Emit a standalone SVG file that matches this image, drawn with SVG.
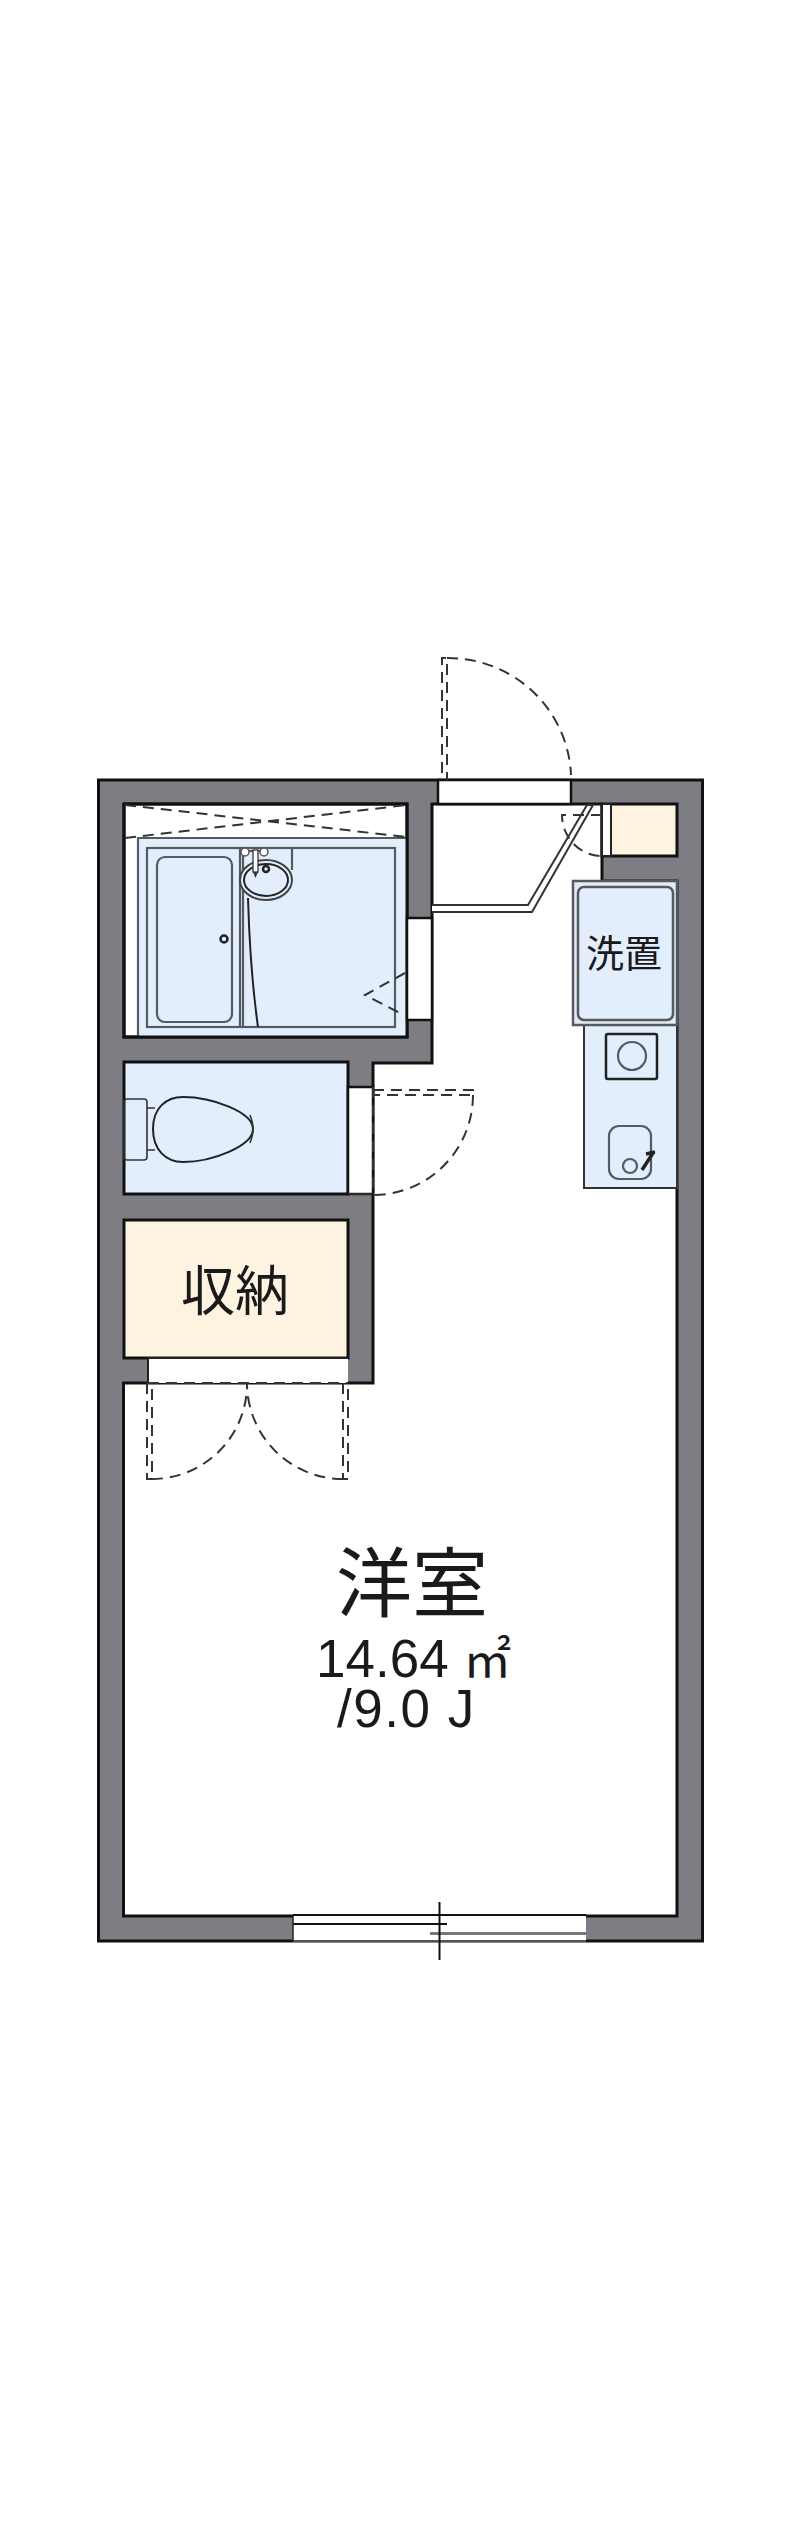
<svg xmlns="http://www.w3.org/2000/svg" width="800" height="2541" viewBox="0 0 800 2541">
<style>
.l{fill:none;stroke:#222;stroke-width:2}
.t{fill:none;stroke:#333;stroke-width:1.6}
.d{fill:none;stroke:#333;stroke-width:2;stroke-dasharray:11 7}
.w{fill:#fff;stroke:#111;stroke-width:2.5}
.r{stroke:#111;stroke-width:3}
.b{fill:#e3eefd}
.c{fill:#fef3e0}
.g{fill:none;stroke:#555a60;stroke-width:2.2}
.j{font-family:"Noto Sans CJK JP",sans-serif;fill:#1a1a1a;text-anchor:middle}
.n{font-family:"Liberation Sans",Arial,sans-serif;fill:#1a1a1a}
</style>
<rect width="800" height="2541" fill="#fff"/>
<g id="walls">
<rect x="98.500" y="780" width="604" height="1161" fill="#7e7d84" stroke="#111" stroke-width="3"/>
<path id="main-room" d="M432 804H602V881H677V1916H123.500V1383H373V1063H432Z" class="r" fill="#fff"/>
</g>
<g id="bath">
<rect x="124" y="804" width="283" height="233" fill="#fff" class="r"/>
<rect x="138" y="838" width="269" height="199" class="b"/>
<path class="g" d="M138 1037V838H407"/>
<rect x="124" y="804" width="283" height="233" fill="none" class="r"/>
<rect x="147" y="848" width="248" height="179" class="g"/>
<rect x="157" y="857" width="75" height="165" rx="8" class="g"/>
<circle cx="224" cy="939" r="3.500" fill="none" stroke="#222" stroke-width="2.500"/>
<path class="g" d="M240 848V1027M243 848V1027M292 848V870"/>
<ellipse cx="266" cy="880" rx="26" ry="20" class="b" stroke="#444" stroke-width="2"/>
<ellipse cx="266" cy="880" rx="22" ry="16" class="l" stroke-width="1.600"/>
<path class="t" d="M245 851H264"/>
<circle cx="245" cy="852" r="4" fill="#fff" stroke="#555" stroke-width="1.500"/>
<circle cx="264" cy="852" r="4" fill="#fff" stroke="#555" stroke-width="1.500"/>
<rect x="253" y="850" width="5" height="22" fill="#fff" stroke="#333" stroke-width="1.300"/>
<path d="M253 872L255.500 878L258 872Z" fill="#333"/>
<circle cx="266" cy="869" r="3" fill="none" stroke="#222" stroke-width="2.500"/>
<path class="l" d="M248 898Q250 970 258 1027"/>
<path class="d" d="M125 805L407 837M125 838L407 805"/>
<path class="d" d="M405 973L365 995L400 1013"/>
</g>
<g id="toilet">
<rect x="124" y="1062" width="224" height="132" class="b r"/>
<rect x="124" y="1099" width="23" height="61" rx="3" fill="#e3eefd" class="t"/>
<path class="t" d="M147 1108H155M147 1150H155"/>
<path class="b" stroke="#222" stroke-width="2" d="M153 1129C153 1108 166 1097 183 1097C212 1097 253 1112 253 1129C253 1146 212 1162 183 1162C166 1162 153 1150 153 1129Z"/>
<path class="t" d="M250 1115Q256 1129 250 1143"/>
<rect x="348" y="1087" width="25" height="107" class="w" stroke-width="1"/>
<path class="d" d="M373 1087V1194M373 1090H473V1095H373M473 1095A100 100 0 0 1 373 1195"/>
<path class="t" d="M348 1194H373"/>
</g>
<g id="storage">
<rect x="124" y="1220" width="224" height="138" class="c r"/>
<rect x="148" y="1358" width="200" height="25" fill="#fff"/>
<path class="l" d="M148 1358H348M148 1358V1383"/>
<path class="d" d="M148 1383H348M147 1383V1479H152V1383M152 1479A95 95 0 0 0 247 1383M343 1383V1479H348V1383M343 1479A96 96 0 0 1 247 1383"/>
<text class="j" x="235" y="1311" font-size="54">収納</text>
</g>
<g id="entrance">
<rect x="438" y="780" width="133" height="24" class="w"/>
<path class="d" d="M442 773V658H447V780M447 658A123 122 0 0 1 571 775"/>
<path fill="#fff" stroke="#333" stroke-width="2" d="M432 905H528L587 805H593L532 912H432"/>
<rect x="407" y="918" width="25" height="102" class="w" stroke-width="1.500"/>
</g>
<g id="closet">
<rect x="602" y="804" width="75" height="52" class="c r"/>
<rect x="602" y="804" width="9" height="52" fill="#fff" stroke="#222" stroke-width="2"/>
<path class="d" d="M602 815H562A40 41 0 0 0 602 856"/>
</g>
<g id="kitchen">
<rect x="584" y="1025" width="93" height="163" class="b" stroke="#333" stroke-width="2"/>
<rect x="606" y="1034" width="51" height="45" rx="2" fill="none" stroke="#222" stroke-width="2.500"/>
<circle cx="632" cy="1056" r="14" class="g"/>
<rect x="609" y="1126" width="42" height="53" rx="10" class="g"/>
<circle cx="630" cy="1166" r="7" class="g"/>
<path d="M642 1170L653 1153M646 1154L655 1152" fill="none" stroke="#222" stroke-width="3.500"/>
</g>
<g id="washer">
<rect x="573" y="881" width="104" height="144" fill="#e3eaf2" stroke="#555a60" stroke-width="2.500"/>
<rect x="578" y="887" width="95" height="133" rx="6" class="b" stroke="#555a60" stroke-width="2.500"/>
<text class="j" x="624" y="967" font-size="38">洗置</text>
</g>
<g id="window">
<rect x="293" y="1916" width="293" height="25" fill="#fff"/>
<path d="M293 1915H586" stroke="#111" stroke-width="2"/>
<path d="M293 1941H586" stroke="#555" stroke-width="2"/>
<path d="M293 1924H447" stroke="#111" stroke-width="2"/>
<path d="M430 1933.500H586" stroke="#777" stroke-width="3"/>
<path d="M293 1916V1941" stroke="#222" stroke-width="1.500"/>
<path d="M439.500 1902V1960" stroke="#111" stroke-width="2"/>
</g>
<g id="western-room">
<text class="j" x="412" y="1611" font-size="76">洋室</text>
<text class="n" x="316" y="1677" font-size="53">14.64 <tspan font-family="Noto Sans CJK JP" font-size="48">㎡</tspan></text>
<text class="n" x="337" y="1727" font-size="53" letter-spacing="1.500">/9.0 J</text>
</g>
</svg>
